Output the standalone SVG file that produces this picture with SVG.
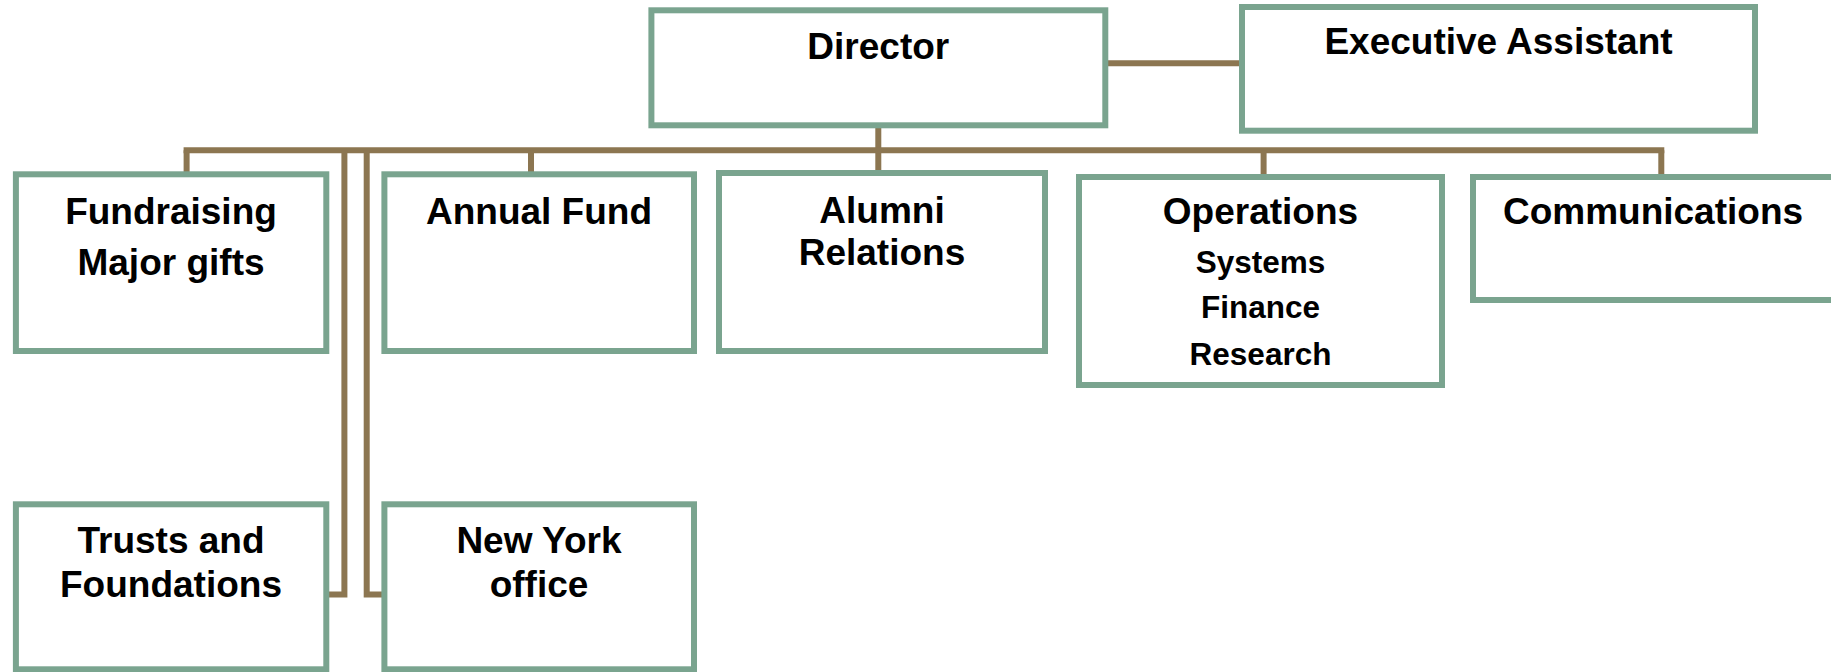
<svg xmlns="http://www.w3.org/2000/svg" width="1831" height="672" viewBox="0 0 1831 672">
<style>
.box{fill:#ffffff;stroke:#7aa48f;stroke-width:6}
.con{fill:none;stroke:#8c7651;stroke-width:6;stroke-linecap:butt;stroke-linejoin:miter}
.t{font-family:"Liberation Sans",Arial,sans-serif;font-weight:bold;font-size:37px;fill:#000;text-anchor:middle}
.s{font-family:"Liberation Sans",Arial,sans-serif;font-weight:bold;font-size:31.5px;fill:#000;text-anchor:middle}
</style>
<rect width="1831" height="672" fill="#ffffff"/>
<g id="connectors">
<line class="con" x1="878.3" y1="127" x2="878.3" y2="171"/>
<line class="con" x1="183.6" y1="150.3" x2="1664.3" y2="150.3"/>
<line class="con" x1="186.6" y1="150.3" x2="186.6" y2="172"/>
<line class="con" x1="531" y1="150.3" x2="531" y2="172"/>
<line class="con" x1="1263.6" y1="150.3" x2="1263.6" y2="175"/>
<line class="con" x1="1661.3" y1="150.3" x2="1661.3" y2="175"/>
<polyline class="con" points="344.4,150.3 344.4,594.5 327,594.5"/>
<polyline class="con" points="366.7,150.3 366.7,594.5 383,594.5"/>
<line class="con" x1="1106" y1="63.2" x2="1241" y2="63.2"/>
</g>
<g id="director">
<rect class="box" x="651.4" y="10.3" width="453.9" height="115"/>
<text class="t" x="878.3" y="58.5">Director</text>
</g>
<g id="executive-assistant">
<rect class="box" x="1242" y="7" width="513" height="123.7"/>
<text class="t" x="1498.5" y="53.5">Executive Assistant</text>
</g>
<g id="fundraising">
<rect class="box" x="15.9" y="174.3" width="310.4" height="176.7"/>
<text class="t" x="171" y="224">Fundraising</text>
<text class="t" x="171" y="274.5">Major gifts</text>
</g>
<g id="annual-fund">
<rect class="box" x="384.4" y="174.3" width="309.6" height="176.7"/>
<text class="t" x="539" y="224">Annual Fund</text>
</g>
<g id="alumni-relations">
<rect class="box" x="719" y="173" width="326" height="178"/>
<text class="t" x="882" y="223.3">Alumni</text>
<text class="t" x="882" y="265">Relations</text>
</g>
<g id="operations">
<rect class="box" x="1079" y="177" width="363" height="208"/>
<text class="t" x="1260.5" y="223.5">Operations</text>
<text class="s" x="1260.5" y="272.5">Systems</text>
<text class="s" x="1260.5" y="318">Finance</text>
<text class="s" x="1260.5" y="364.5">Research</text>
</g>
<g id="communications">
<rect class="box" x="1473" y="177" width="363" height="123"/>
<text class="t" x="1653" y="224">Communications</text>
</g>
<g id="trusts-foundations">
<rect class="box" x="15.9" y="504.3" width="310.4" height="165"/>
<text class="t" x="171" y="552.7">Trusts and</text>
<text class="t" x="171" y="596.7">Foundations</text>
</g>
<g id="new-york-office">
<rect class="box" x="384.4" y="504.3" width="309.6" height="165"/>
<text class="t" x="539" y="552.7">New York</text>
<text class="t" x="539" y="596.7">office</text>
</g>
</svg>
